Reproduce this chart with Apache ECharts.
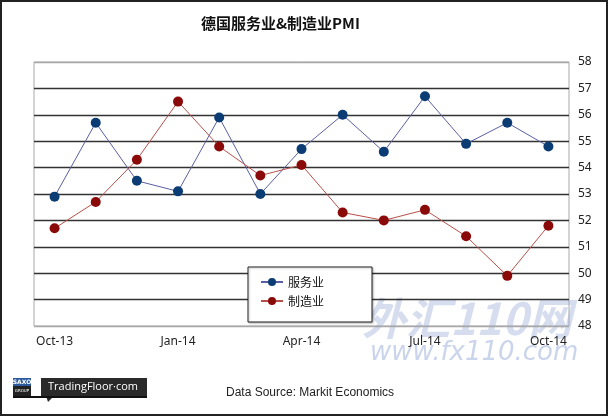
<!DOCTYPE html>
<html><head><meta charset="utf-8">
<script src="https://cdn.jsdelivr.net/npm/echarts@6/dist/echarts.min.js"></script>
<style>html,body{margin:0;padding:0;background:#fff}#c{width:608px;height:416px}</style>
</head><body><div id="c"></div>
<script>
var categories = ['Oct-13','Nov-13','Dec-13','Jan-14','Feb-14','Mar-14','Apr-14','May-14','Jun-14','Jul-14','Aug-14','Sep-14','Oct-14'];
var services = [52.9,55.7,53.5,53.1,55.9,53.0,54.7,56.0,54.6,56.7,54.9,55.7,54.8];
var manufacturing = [51.7,52.7,54.3,56.5,54.8,53.7,54.1,52.3,52.0,52.4,51.4,49.9,51.8];
var yTicks = {min:48, max:58, interval:1};
var titleText = '德国服务业&制造业PMI';
var sourceText = 'Data Source: Markit Economics';

var splitColors = ['#a8a8a8','#333','#333','#333','#333','#333','#333','#333','#333','#333','#a8a8a8'];
var chart = echarts.init(document.getElementById('c'));
chart.setOption({
  animation:false,
  backgroundColor:'#fff',
  title:{text:titleText,left:196,top:11,textStyle:{fontFamily:'Noto Sans CJK SC',fontSize:15,fontWeight:'bold',color:'#111'}},
  grid:{left:34,right:39,top:62,bottom:90,show:true,borderColor:'#a8a8a8',borderWidth:1},
  xAxis:{type:'category',data:categories,boundaryGap:true,
    axisLine:{show:false},axisTick:{show:false},
    axisLabel:{interval:2,margin:10,color:'#222',fontFamily:'Noto Sans',fontSize:12}},
  yAxis:{type:'value',position:'right',min:yTicks.min,max:yTicks.max,interval:yTicks.interval,
    axisLine:{show:false},axisTick:{show:false},
    axisLabel:{margin:9,color:'#222',fontFamily:'Noto Sans',fontSize:12}
    ,splitLine:{lineStyle:{color:splitColors,width:1.3}}},
  legend:{orient:'vertical',left:248,top:267,itemWidth:22,itemHeight:10,itemGap:7,
    padding:[9,48,15,12],backgroundColor:'#fff',borderColor:'#222',borderWidth:1,
    shadowColor:'rgba(0,0,0,0.25)',shadowOffsetX:1,shadowOffsetY:1,shadowBlur:2,
    textStyle:{fontFamily:'Noto Sans CJK SC',fontSize:12,color:'#111',padding:[0,0,0,0]},
    data:['服务业','制造业']},
  graphic:[
    {type:'text',left:362,top:296,z:0,style:{text:'外汇110网',fill:'rgba(150,170,215,0.4)',font:'italic bold 44px "Noto Sans CJK SC"'}},
    {type:'text',left:370,top:340,z:0,style:{text:'www.fx110.com',fill:'rgba(150,170,215,0.5)',font:'italic 26px "DejaVu Sans"'}},
    {type:'rect',shape:{x:13,y:378,width:18,height:8},style:{fill:'#2c5a9c'}},
    {type:'rect',shape:{x:13,y:386,width:18,height:10},style:{fill:'#222'}},
    {type:'text',x:22,y:382,style:{text:'SAXO',fill:'#fff',font:'bold 6px "DejaVu Sans"',align:'center',verticalAlign:'middle'}},
    {type:'text',x:22,y:391,style:{text:'GROUP',fill:'#fff',font:'4px "DejaVu Sans"',align:'center',verticalAlign:'middle'}},
    {type:'rect',shape:{x:41,y:378,width:106,height:18},style:{fill:'#2a2a2a'}},
    {type:'polygon',shape:{points:[[46,396],[54,396],[48,402]]},style:{fill:'#2a2a2a'}},
    {type:'rect',shape:{x:13,y:396,width:134,height:2},style:{fill:'#111'}},
    {type:'text',x:48,y:387,style:{text:'TradingFloor·com',fill:'#fff',font:'11px "Open Sans"',verticalAlign:'middle'}},
    {type:'text',x:226,y:393,style:{text:sourceText,fill:'#222',font:'12px "Liberation Sans"',verticalAlign:'middle'}},
    {type:'rect',shape:{x:1,y:1,width:606,height:414},style:{fill:'none',stroke:'#222',lineWidth:2}}
  ],
  series:[
    {name:'服务业',type:'line',data:services,symbol:'circle',symbolSize:10,
      itemStyle:{color:'#0b3c73'},lineStyle:{color:'#5a5fa5',width:1}},
    {name:'制造业',type:'line',data:manufacturing,symbol:'circle',symbolSize:10,
      itemStyle:{color:'#8a0a0a'},lineStyle:{color:'#b8504a',width:1}}
  ]
});
</script></body></html>
